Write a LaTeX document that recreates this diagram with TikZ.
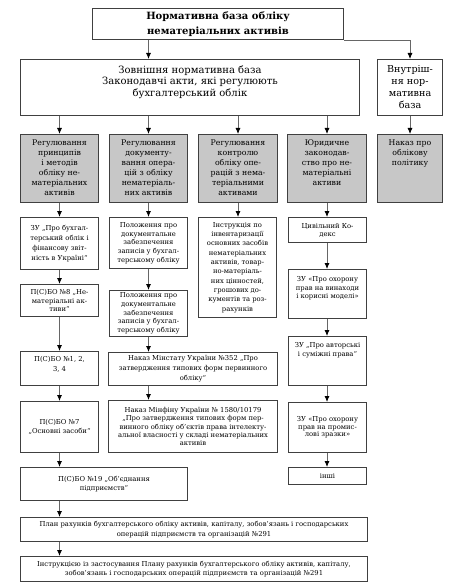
\documentclass[tikz,border=0pt]{standalone}
\usepackage{fontspec}
\setmainfont{DejaVu Serif}
\usetikzlibrary{arrows.meta}

\begin{document}
\begin{tikzpicture}[x=1pt, y=-1pt,
      every node/.style={draw=black!75, line width=1pt, anchor=north west, inner sep=0pt},
      midcell/.style 2 args={execute at begin node={\begin{minipage}[c][#2][c]{#1}\centering},
        execute at end node={\end{minipage}}},
      topcell/.style n args={3}{execute at begin node={\begin{minipage}[c][#2][t]{#1}\centering\vspace*{#3}},
        execute at end node={\end{minipage}}},
      greybox/.style={fill=black!22, font=\fontsize{7.8}{10}\selectfont},
      leafbox/.style={fill=white, font=\fontsize{6.8}{8.7}\selectfont},
      link/.style={draw=black!60, line width=0.8pt, -{Latex[length=6pt,width=5pt,color=black]}}]
    \useasboundingbox (0,0) rectangle (462,585);

    % head
    \node[midcell={251pt}{31pt}, font=\fontsize{10}{15}\selectfont\bfseries] (norm) at (92,8)
      {Нормативна база обліку\\нематеріальних активів};
    \node[topcell={339pt}{56pt}{6pt}, font=\fontsize{10}{11.7}\selectfont] (ext) at (20,59)
      {Зовнішня нормативна база\\Законодавчі акти, які регулюють\\бухгалтерський облік};
    \node[midcell={65pt}{56pt}, font=\fontsize{9.6}{12}\selectfont] (int) at (377,59)
      {Внутріш-\\ня нор-\\мативна\\база};

    % grey row
    \node[greybox, topcell={78pt}{68pt}{5pt}] (reg1) at (20,134)
      {Регулювання\\принципів\\і методів\\обліку не-\\матеріальних\\активів};
    \node[greybox, topcell={78pt}{68pt}{5pt}] (reg2) at (109,134)
      {Регулювання\\документу-\\вання опера-\\цій з обліку\\нематеріаль-\\них активів};
    \node[greybox, topcell={79pt}{68pt}{5pt}] (reg3) at (198,134)
      {Регулювання\\контролю\\обліку опе-\\рацій з нема-\\теріальними\\активами};
    \node[greybox, topcell={79pt}{68pt}{5pt}] (jur) at (287,134)
      {Юридичне\\законодав-\\ство про не-\\матеріальні\\активи};
    \node[greybox, topcell={65pt}{68pt}{5pt}] (nakaz) at (377,134)
      {Наказ про\\облікову\\політику};

    % first column
    \node[leafbox, midcell={78pt}{52pt}, font=\fontsize{6.8}{9.8}\selectfont] (zu1) at (20,217)
      {ЗУ „Про бухгал-\\терський облік і\\фінансову звіт-\\ність в Україні“};
    \node[leafbox, midcell={78pt}{32pt}] (psbo8) at (20,284)
      {П(С)БО №8 „Не-\\матеріальні ак-\\тиви“};
    \node[leafbox, topcell={78pt}{34pt}{4.5pt}, font=\fontsize{6.8}{10}\selectfont] (psbo1) at (20,351)
      {П(С)БО №1, 2,\\3, 4};
    \node[leafbox, midcell={78pt}{51pt}] (psbo7) at (20,401)
      {П(С)БО №7\\„Основні засоби“};
    \node[leafbox, midcell={167pt}{33pt}] (psbo19) at (20,467)
      {П(С)БО №19 „Об’єднання\\підприємств“};

    % second column
    \node[leafbox, midcell={78pt}{51pt}] (doc1) at (109,217)
      {Положення про\\документальне\\забезпечення\\записів у бухгал-\\терському обліку};
    \node[leafbox, midcell={78pt}{46pt}] (doc2) at (109,290)
      {Положення про\\документальне\\забезпечення\\записів у бухгал-\\терському обліку};
    \node[leafbox, midcell={169pt}{33pt}, font=\fontsize{6.8}{10}\selectfont] (minstat) at (108,352)
      {Наказ Мінстату України №352 „Про\\затвердження типових форм первинного\\обліку“};
    \node[leafbox, midcell={169pt}{52pt}, font=\fontsize{6.8}{8.4}\selectfont] (minfin) at (108,400)
      {Наказ Мінфіну України № 1580/10179\\„Про затвердження типових форм пер-\\винного обліку об’єктів права інтелекту-\\альної власності у складі нематеріальних\\активів};

    % third column
    \node[leafbox, midcell={78pt}{100pt}, font=\fontsize{6.8}{9.3}\selectfont] (invent) at (198,217)
      {Інструкція по\\інвентаризації\\основних засобів\\нематеріальних\\активів, товар-\\но-матеріаль-\\них цінностей,\\грошових до-\\кументів та роз-\\рахунків};

    % fourth column
    \node[leafbox, midcell={78pt}{25pt}, font=\fontsize{6.8}{8}\selectfont] (civ) at (288,217)
      {Цивільний Ко-\\декс};
    \node[leafbox, topcell={78pt}{49pt}{7pt}, font=\fontsize{6.8}{8.5}\selectfont] (zpat) at (288,269)
      {ЗУ «Про охорону\\прав на винаходи\\і корисні моделі»};
    \node[leafbox, topcell={78pt}{49pt}{6pt}, font=\fontsize{6.8}{9}\selectfont] (zavt) at (288,336)
      {ЗУ „Про авторські\\і суміжні права“};
    \node[leafbox, midcell={78pt}{50pt}, font=\fontsize{6.8}{7.6}\selectfont] (zprom) at (288,402)
      {ЗУ «Про охорону\\прав на промис-\\лові зразки»};
    \node[leafbox, midcell={78pt}{17pt}] (other) at (288,467) {інші};

    % bottom
    \node[leafbox, midcell={347pt}{24pt}, font=\fontsize{6.8}{9.3}\selectfont] (plan) at (20,517)
      {План рахунків бухгалтерського обліку активів, капіталу, зобов’язань і господарських\\операцій підприємств та організацій №291};
    \node[leafbox, midcell={347pt}{25pt}, font=\fontsize{6.8}{9.3}\selectfont] (instr) at (20,556)
      {Інструкцією із застосування Плану рахунків бухгалтерського обліку активів, капіталу,\\зобов’язань і господарських операцій підприємств та організацій №291};

    % connectors
    \draw[link] (norm.south -| reg2.north) -- (ext.north -| reg2.north);
    \draw[link] (norm.south east) -| (int.north);
    \foreach \n in {reg1,reg2,reg3,jur}
      \draw[link] (ext.south -| \n.north) -- (\n.north);
    \draw[link] (int.south) -- (nakaz.north);
    \foreach \a/\b/\c in {reg1/zu1/reg1, zu1/psbo8/reg1, psbo8/psbo1/reg1, psbo1/psbo7/reg1,
        psbo7/psbo19/reg1, psbo19/plan/reg1, plan/instr/reg1,
        reg2/doc1/reg2, doc1/doc2/reg2, doc2/minstat/reg2, minstat/minfin/reg2,
        reg3/invent/reg3,
        jur/civ/jur, civ/zpat/jur, zpat/zavt/jur, zavt/zprom/jur, zprom/other/jur}
      \draw[link] (\a.south -| \c.south) -- (\b.north -| \c.south);
  \end{tikzpicture}
\end{document}
